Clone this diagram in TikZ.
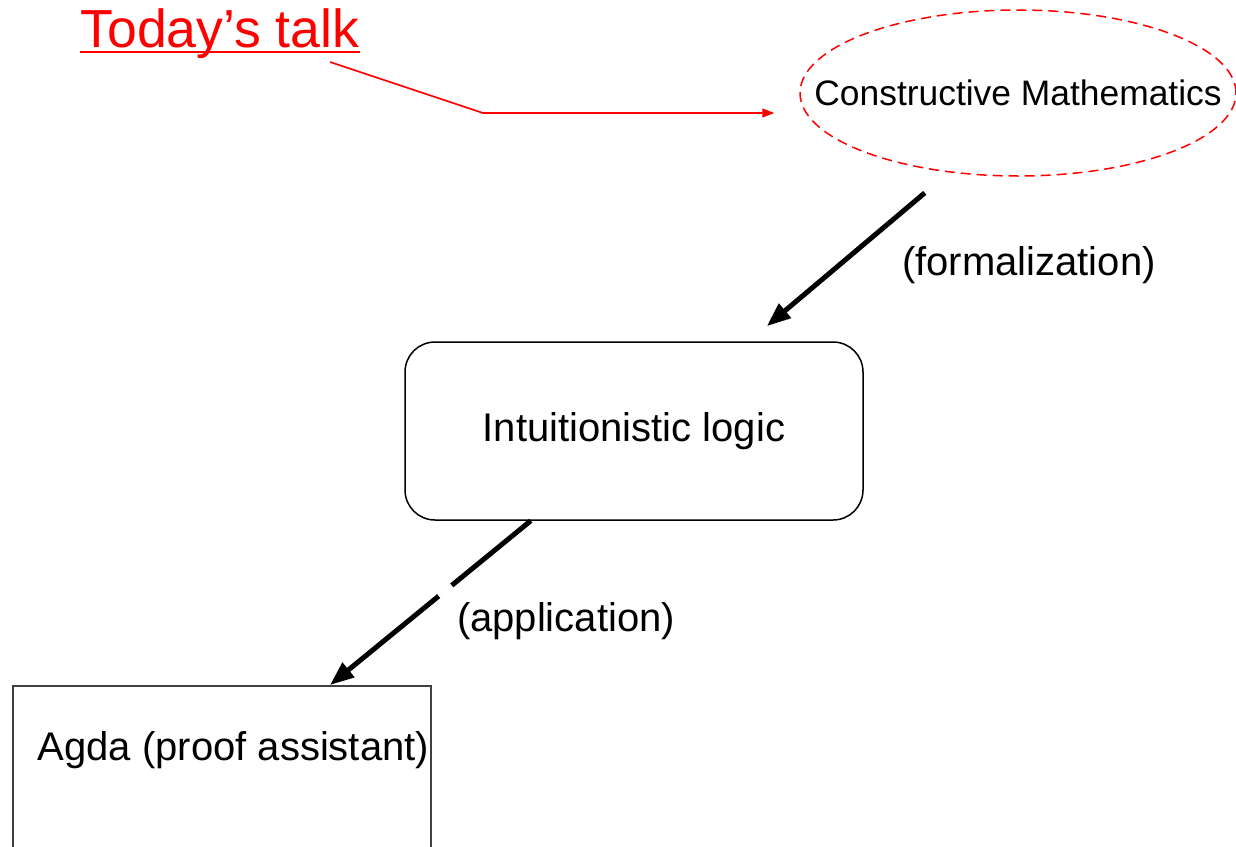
\documentclass[tikz,border=0pt]{standalone}
\usepackage{fontspec}
\setmainfont{Liberation Sans}
\usetikzlibrary{shapes.geometric,arrows.meta}

\tikzset{
    bigtext/.style={font=\fontsize{20}{24}\selectfont},
    flow/.style={line width=2.5pt, -{Triangle[length=12pt,width=9pt]}},
}

\begin{document}
\begin{tikzpicture}[x=0.5pt, y=-0.5pt]
    \useasboundingbox (0, 0) rectangle (1236, 846);
    \clip (0, 0) rectangle (1236, 846);
    \fill [white] (0, 0) rectangle (1236, 846);

    \node [red, anchor=base west, inner sep=0, font=\fontsize{26.8}{32}\selectfont] (talk) at (80, 47) {Today's talk};
    \draw [red, line width=0.9pt] ([yshift=-2.5pt]talk.base west) -- ([yshift=-2.5pt]talk.base east);

    \node [ellipse, draw=red, line width=0.75pt, dash pattern=on 5pt off 3pt, minimum width=218pt, minimum height=83pt, inner sep=0, font=\fontsize{17.7}{21}\selectfont] (cm) at (1018, 93) {\makebox[0pt]{Constructive Mathematics}};

    \coordinate (kink1) at (330, 62);
    \coordinate (kink2) at (483, 113);
    \draw [red, line width=0.8pt, -{Triangle[length=6pt,width=4.5pt]}, shorten >=12.5pt] (kink1) -- (kink2) -- (kink2 -| cm.west);

    \node [draw, rounded corners=15pt, line width=0.75pt, minimum width=229pt, minimum height=89pt, bigtext] (intu) at (634, 431) {Intuitionistic logic};
    \node [draw=black!75, anchor=north west, line width=0.75pt, inner xsep=12.5pt, inner ysep=0, text height=37.5pt, text depth=70pt, bigtext] (agda) at (12, 685) {\makebox[184pt][l]{Agda (proof assistant)}};

    \draw [flow, shorten <=15.8pt, shorten >=11.7pt] (cm.229) -- (intu.38.7);
    \draw [flow] (intu.221) -- (agda.45);
    \path (intu.221) -- (agda.45) coordinate [pos=0.394] (gapa) coordinate [pos=0.458] (gapb);
    \draw [white, line width=4pt] (gapa) -- (gapb);

    \node [bigtext] (formal) at (1029, 265) {(formalization)};
    \node [bigtext] (appl) at (566, 621) {(application)};
\end{tikzpicture}
\end{document}
